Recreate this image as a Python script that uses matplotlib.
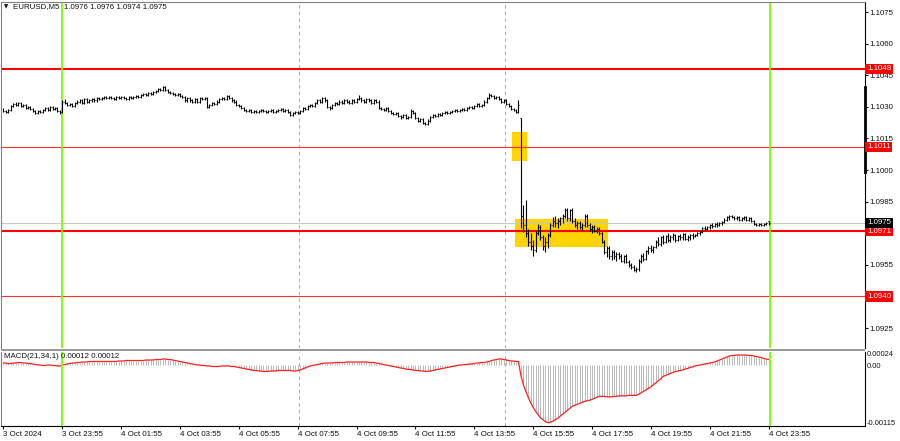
import matplotlib
matplotlib.use("Agg")
import numpy as np
import matplotlib.pyplot as plt
from matplotlib.collections import LineCollection
from matplotlib.patches import Rectangle

# EURUSD M5, 3 Oct 21:55 .. 4 Oct 23:55, prices in pips above BASE
BASE = 1.1000
PIP = 0.0001

open_pips = [
    28.5, 28, 27.5, 28.5, 30.5, 31.5, 31, 32, 30.5, 31,
    29.5, 30, 29, 28, 27, 28, 27.5, 28.5, 29.5, 28.5,
    30, 29, 29.5, 28, 27.5, 32.5, 32, 31, 31.5, 30.5,
    32, 32.5, 33, 32, 33.5, 32.5, 33, 33.5, 33, 34,
    33.5, 34, 34.5, 34, 34.5, 34, 33.5, 34.5, 34, 34.5,
    34, 33.5, 34.5, 34, 34.5, 35, 34.5, 35.5, 36, 35.5,
    36.5, 36, 37, 37.5, 38.5, 38, 39.5, 38, 37, 36.5,
    36, 35.5, 36, 35, 34.5, 33, 34, 33, 32.5, 33.5,
    32.5, 34, 33.5, 34, 30, 31, 32, 31.5, 32.5, 33.5,
    34, 33.5, 35, 34, 33, 32.5, 31, 30.5, 29.5, 28.5,
    28, 28.5, 27.5, 28, 27.5, 28, 28.5, 28, 27.5, 28,
    28.5, 27.5, 28, 28.5, 29, 28, 28.5, 27.5, 26, 27,
    27.5, 27, 28, 29.5, 29, 30.5, 31, 30.5, 32, 33,
    32.5, 34, 33, 30, 29.5, 31, 32, 31.5, 32.5, 32,
    33, 32.5, 32, 33, 32.5, 33.5, 34, 33, 32.5, 33.5,
    33, 32, 33, 32.5, 29.5, 29, 28.5, 29.5, 28, 27,
    26.5, 27, 25.5, 25, 26, 24.5, 25, 28, 27, 24.5,
    23.5, 24, 22.5, 22, 23.5, 25, 26, 25.5, 26.5, 26,
    27, 27.5, 27, 27.5, 28, 28.5, 28, 28.5, 29, 28.5,
    29.5, 30, 29.5, 30.5, 31.5, 30.5, 31, 32.5, 34, 35.5,
    35, 34, 34.5, 33.5, 32.5, 33, 31.5, 30.5, 29, 28.5,
    27.5, 24.5, -22, -26, -30, -34, -36, -38, -30, -27,
    -32, -36, -34, -31, -26, -24, -25, -24, -23, -22,
    -19, -23, -19, -24, -26, -25, -27, -26, -22, -26,
    -28, -27, -29, -28, -30, -34, -39, -37, -41, -39,
    -41, -40, -41, -43, -41, -43.5, -45, -46, -47.5, -47,
    -43, -41, -42, -38.5, -37, -38, -36.5, -34, -35, -32,
    -34, -31.5, -33, -32, -31, -33, -31.5, -32, -30.5, -32.5,
    -32, -31, -31.5, -31, -30, -29.5, -27.5, -28, -27, -26,
    -26.5, -25.5, -26, -25, -24.5, -23.5, -22.5, -22, -22.5, -23,
    -22.5, -23.5, -23, -22.5, -23.5, -23, -24, -25.5, -26, -25.5,
    -26, -25.5, -24,
]
high_pips = [
    29.5, 28.5, 29, 31, 32, 32.5, 32.5, 32.5, 31.5, 31.5,
    30.5, 30.5, 29.5, 28.5, 28.5, 28.5, 29, 30, 30, 30.5,
    30.5, 30, 30, 28.5, 33, 33.5, 32.5, 32, 32, 32.5,
    33, 33.5, 33.5, 34, 34, 33.5, 34, 34, 34.5, 34.5,
    34.5, 35, 35, 35, 35, 34.5, 35, 35, 35, 35,
    34.5, 35, 35, 35, 35.5, 35.5, 36, 36.5, 36.5, 37,
    37, 37.5, 38, 39, 39, 40, 40, 38.5, 37.5, 37,
    36.5, 36.5, 36.5, 35.5, 35, 34.5, 34.5, 33.5, 34, 34,
    34.5, 34.5, 34.5, 34.5, 31.5, 32.5, 32.5, 33, 34, 34.5,
    34.5, 35.5, 35.5, 34.5, 33.5, 33, 31.5, 31, 30, 29,
    29, 29, 28.5, 28.5, 28.5, 29, 29, 28.5, 28.5, 29,
    29, 28.5, 29, 29.5, 29.5, 29, 29, 28, 27.5, 28,
    28, 28.5, 30, 30, 31, 31.5, 31.5, 32.5, 33.5, 33.5,
    34.5, 34.5, 33.5, 30.5, 31.5, 32.5, 32.5, 33, 33, 33.5,
    33.5, 33, 33.5, 33.5, 34, 35.5, 34.5, 33.5, 34, 34,
    33.5, 33.5, 33.5, 33, 30, 29.5, 30, 30, 28.5, 27.5,
    27.5, 27.5, 26, 26.5, 26.5, 25.5, 29, 28.5, 27.5, 25,
    24.5, 24.5, 23, 24, 25.5, 26.5, 26.5, 27, 27, 27.5,
    28, 28, 28, 28.5, 29, 29, 29, 29.5, 29.5, 30,
    30.5, 30.5, 31, 32, 32, 31.5, 33, 34.5, 36.5, 36,
    35.5, 35, 35, 34, 33.5, 33.5, 32, 31, 29.5, 29,
    33, 24.7, -16.5, -14, -28, -30, -33, -29, -25.5, -26,
    -31, -32, -30, -25, -22.5, -22, -23, -22.5, -21, -18,
    -18, -18.5, -18, -23, -24, -24, -25, -21, -21, -25,
    -26, -26, -27, -27, -29.5, -33, -36, -36, -38, -38,
    -39, -39, -40, -40.5, -40, -42.5, -44, -45, -46, -42,
    -40, -39.5, -38, -36, -35.5, -36, -33, -32, -31.5, -31,
    -31, -30, -31, -30, -30.5, -31, -30.5, -30, -30, -31,
    -30.5, -30, -30.5, -29.5, -29, -27, -26.5, -26.5, -25.5, -25,
    -25, -24.5, -24.5, -24, -23, -22, -21.5, -21.5, -22, -22,
    -22, -22.5, -22, -22, -22.5, -22.5, -23.5, -25, -25, -25,
    -25, -24.5, -24,
]
low_pips = [
    27.5, 27, 27, 28, 30, 30.5, 30.5, 30, 30, 29,
    29, 28.5, 27.5, 26.5, 26.5, 27, 27, 28, 28, 28,
    28.5, 28.5, 27.5, 26.5, 27, 31.5, 30.5, 30.5, 30, 30,
    31.5, 32, 31.5, 31.5, 32, 32, 32.5, 32.5, 32.5, 33,
    33, 33.5, 33.5, 33.5, 33.5, 33, 33, 33.5, 33.5, 33.5,
    33, 33, 33.5, 33.5, 34, 34, 34, 35, 35, 35,
    35.5, 35.5, 36.5, 37, 37.5, 37.5, 37.5, 36.5, 36, 35.5,
    35, 35, 34.5, 34, 32.5, 32.5, 32.5, 32, 32, 32,
    32, 33, 33, 29.5, 29.5, 30.5, 31, 31, 32, 33,
    33, 33, 33.5, 32.5, 32, 30.5, 30, 29, 28, 27.5,
    27.5, 27, 27, 27, 27, 27.5, 27.5, 27, 27, 27.5,
    27, 27, 27.5, 28, 27.5, 27.5, 27, 25.5, 25.5, 26.5,
    26.5, 26.5, 27.5, 28.5, 28.5, 30, 30, 30, 31.5, 32,
    32, 32.5, 29.5, 28.5, 29, 30.5, 31, 31, 31.5, 31.5,
    32, 31.5, 31.5, 32, 32, 33, 32.5, 32, 32, 32.5,
    31.5, 31.5, 32, 29, 28.5, 28, 28, 27.5, 26.5, 26,
    26, 25, 24, 24.5, 24, 24, 24.5, 26.5, 24, 23,
    23, 22, 21.5, 21.5, 23, 24.5, 25, 25, 25.5, 25.5,
    26.5, 26.5, 26.5, 27, 27.5, 27.5, 27.5, 28, 28, 28,
    29, 29, 29, 30, 30, 30, 30.5, 32, 33.5, 34.5,
    33.5, 33.5, 33, 32, 32, 31, 30, 28.5, 28, 27,
    27, -27.5, -29.5, -32, -36, -38, -41, -39, -31, -33,
    -38, -39, -37, -32, -27, -27, -27.5, -26, -25, -23,
    -24, -24, -25, -27, -28, -28, -28.5, -27, -27, -29,
    -30, -29.5, -30, -31, -34.5, -40, -41.5, -42, -42.5, -42,
    -43, -42, -43.5, -44, -44, -46, -47, -48, -48.5, -48,
    -44, -43, -42.5, -40, -39, -39.5, -37, -36, -36, -35,
    -34.5, -34, -34, -33, -34, -33.5, -33, -33, -33, -33.5,
    -33, -32.5, -32, -31.5, -31, -30, -29, -28.5, -28, -27.5,
    -27, -27, -26.5, -26, -25, -24, -23.5, -23, -23.5, -23.5,
    -24, -24, -23.5, -24, -24, -24.5, -26, -26.5, -26.5, -26.5,
    -26.5, -26, -26,
]
close_pips = [
    28, 27.5, 28.5, 30.5, 31.5, 31, 32, 30.5, 31, 29.5,
    30, 29, 28, 27, 28, 27.5, 28.5, 29.5, 28.5, 30,
    29, 29.5, 28, 27.5, 32.5, 32, 31, 31.5, 30.5, 32,
    32.5, 33, 32, 33.5, 32.5, 33, 33.5, 33, 34, 33.5,
    34, 34.5, 34, 34.5, 34, 33.5, 34.5, 34, 34.5, 34,
    33.5, 34.5, 34, 34.5, 35, 34.5, 35.5, 36, 35.5, 36.5,
    36, 37, 37.5, 38.5, 38, 39.5, 38, 37, 36.5, 36,
    35.5, 36, 35, 34.5, 33, 34, 33, 32.5, 33.5, 32.5,
    34, 33.5, 34, 30, 31, 32, 31.5, 32.5, 33.5, 34,
    33.5, 35, 34, 33, 32.5, 31, 30.5, 29.5, 28.5, 28,
    28.5, 27.5, 28, 27.5, 28, 28.5, 28, 27.5, 28, 28.5,
    27.5, 28, 28.5, 29, 28, 28.5, 27.5, 26, 27, 27.5,
    27, 28, 29.5, 29, 30.5, 31, 30.5, 32, 33, 32.5,
    34, 33, 30, 29.5, 31, 32, 31.5, 32.5, 32, 33,
    32.5, 32, 33, 32.5, 33.5, 34, 33, 32.5, 33.5, 33,
    32, 33, 32.5, 29.5, 29, 28.5, 29.5, 28, 27, 26.5,
    27, 25.5, 25, 26, 24.5, 25, 28, 27, 24.5, 23.5,
    24, 22.5, 22, 23.5, 25, 26, 25.5, 26.5, 26, 27,
    27.5, 27, 27.5, 28, 28.5, 28, 28.5, 29, 28.5, 29.5,
    30, 29.5, 30.5, 31.5, 30.5, 31, 32.5, 34, 35.5, 35,
    34, 34.5, 33.5, 32.5, 33, 31.5, 30.5, 29, 28.5, 27.5,
    31, -22, -26, -30, -34, -36, -38, -30, -27, -32,
    -36, -34, -31, -26, -24, -25, -24, -23, -22, -19,
    -23, -19, -24, -26, -25, -27, -26, -22, -26, -28,
    -27, -29, -28, -30, -34, -39, -37, -41, -39, -41,
    -40, -41, -43, -41, -43.5, -45, -46, -47.5, -47, -43,
    -41, -42, -38.5, -37, -38, -36.5, -34, -35, -32, -34,
    -31.5, -33, -32, -31, -33, -31.5, -32, -30.5, -32.5, -32,
    -31, -31.5, -31, -30, -29.5, -27.5, -28, -27, -26, -26.5,
    -25.5, -26, -25, -24.5, -23.5, -22.5, -22, -22.5, -23, -22.5,
    -23.5, -23, -22.5, -23.5, -23, -24, -25.5, -26, -25.5, -26,
    -25.5, -25, -25,
]

# MACD(21,34,1) main line, in units of 0.00001
macd_e5 = [
    5, 5, 4, 4, 5, 5, 6, 6, 5, 5, 4, 4, 3,
    2, 1, 1, 0, 0, 1, 1, 0, 0, -1, -1,
    1, 2, 3, 4, 5, 5, 6, 6, 7, 7, 7, 8, 8, 8, 8, 8, 8, 8, 8, 8, 8, 8, 8,
    9, 9, 9, 10, 10, 10, 10, 10, 10, 10, 10, 11, 11, 11, 11,
    12, 12, 12, 13, 13, 12, 12,
    11, 10, 9, 8, 7, 6, 5, 4, 3, 2, 1, 1, 0, 0, -1, -1, -2,
    -2, -2, -2, -1, -1, -1, -1, -2, -2, -3, -4,
    -5, -6, -7, -8, -9, -10, -10, -11, -11, -12, -12,
    -12, -11, -11, -11, -10, -10, -10, -10, -10, -10, -11, -11, -10, -9,
    -7, -5, -3, -1, 0, 1, 2, 3,
    4, 5, 5, 5, 5, 6, 6, 6, 6, 6, 7, 7, 7, 7, 7, 7, 7, 7, 7, 6, 6, 6, 5,
    4, 3, 2, 1, 0, -1, -2, -3, -4, -5, -6, -7, -8,
    -8, -9, -10, -10, -11, -11, -12, -12, -11,
    -10, -9, -8, -7, -6, -5, -4, -3,
    -2, -1, 0, 1, 1, 2, 2, 3, 3, 4, 5,
    5, 6, 6, 7, 8, 10, 11,
    12, 13, 13, 12,
    11, 10, 9, 9, 8, 8,
    -20, -38, -52, -64, -75, -84, -92, -99, -105, -109, -113, -115,
    -114, -112, -109, -106, -102, -98, -94, -90, -86, -82,
    -80, -78, -76, -74, -72, -71, -70, -68, -66, -64, -62, -62, -62, -63, -63,
    -63, -62, -62, -61, -61, -61, -61, -60, -60, -60, -60,
    -58, -55, -52, -49, -46, -43, -39, -35, -31, -27, -22,
    -20, -18, -16, -14, -12, -11, -10, -9, -7, -6, -4, -3, -1, 0,
    1, 2, 3, 4, 5, 6, 7, 9, 11, 13, 15, 17, 19,
    20, 20, 21, 21, 21, 21, 21, 20, 20, 19, 18, 17, 16, 14, 13, 12,
]

time_labels = ["3 Oct 2024", "3 Oct 23:55", "4 Oct 01:55", "4 Oct 03:55",
               "4 Oct 05:55", "4 Oct 07:55", "4 Oct 09:55", "4 Oct 11:55",
               "4 Oct 13:55", "4 Oct 15:55", "4 Oct 17:55", "4 Oct 19:55",
               "4 Oct 21:55", "4 Oct 23:55"]
time_label_bars = [0, 24, 48, 72, 96, 120, 144, 168, 192, 216, 240, 264, 288, 312]

price_ticks = [1.1075, 1.1060, 1.1045, 1.1030, 1.1015, 1.1000, 1.0985, 1.0955, 1.0925]
strong_levels = [1.1048, 1.0971]
weak_levels = [1.1011, 1.0940]
bid_price = 1.0975
green_lines = [24.0, 312.7]
separator_lines = [120.6, 204.7]
# yellow zones: (first bar, last bar, low, high)
zones = [(207.4, 213.5, 1.10043, 1.10180), (208.6, 246.5, 1.09635, 1.09768)]
scale_marker = (1.10394, 1.09991)
macd_ticks = [0.00024, 0.0, -0.00115]
macd_tick_labels = ["0.00024", "0.00", "-0.00115"]

o = BASE + np.array(open_pips) * PIP
h = BASE + np.array(high_pips) * PIP
l = BASE + np.array(low_pips) * PIP
c = BASE + np.array(close_pips) * PIP
macd = np.array(macd_e5) * 1e-5
x = np.arange(len(c))

W, H = 900, 441
FS = 5.7
TXT = "#111111"
plt.rcParams['font.family'] = ['Liberation Sans', 'DejaVu Sans']


def rect(x0, y0, x1, y1):
    return [x0 / W, 1 - y1 / H, (x1 - x0) / W, (y1 - y0) / H]


fig = plt.figure(figsize=(9, 4.41), dpi=100)
ax = fig.add_axes(rect(1, 2, 865, 348))
axm = fig.add_axes(rect(1, 352, 865, 426), sharex=ax)

BAR_PX, X0_PX = 2.452, 3.5
ax.set_xlim((1 - X0_PX) / BAR_PX, (865 - X0_PX) / BAR_PX)
ax.set_ylim(1.091553, 1.107975)
axm.set_ylim(-0.001216, 0.000271)

# zones
for x0, x1, lo, hi in zones:
    ax.add_patch(Rectangle((x0, lo), x1 - x0, hi - lo, facecolor="#ffd400",
                           edgecolor="none", zorder=1))

ax.axhline(bid_price, color="#c8c8c8", lw=0.8, zorder=1.5)
for lv in strong_levels:
    ax.axhline(lv, color="#ff0000", lw=1.5, zorder=2)
for lv in weak_levels:
    ax.axhline(lv, color="#ff3030", lw=0.8, zorder=2)

for a in (ax, axm):
    for gx in green_lines:
        a.axvline(gx, color="#7cfc00", lw=1.3, zorder=2.5)
    for sx in separator_lines:
        a.axvline(sx, color="#8fd14f", lw=0.8, dashes=(3, 3), zorder=0.5)

# OHLC bars
segs = []
for i in range(len(c)):
    segs.append([(x[i], l[i]), (x[i], h[i])])
    segs.append([(x[i] - 0.4, o[i]), (x[i], o[i])])
    segs.append([(x[i], c[i]), (x[i] + 0.4, c[i])])
ax.add_collection(LineCollection(segs, colors="black", linewidths=0.8, zorder=3))

xr = ax.get_xlim()[1]
ax.plot([xr, xr], scale_marker, color="black", lw=2, clip_on=False, zorder=5)

# MACD panel
axm.vlines(x, 0, macd, color="#b8b8b8", lw=0.7, zorder=1)
axm.plot(x, macd, color="#ff2020", lw=0.9, zorder=2)

# axes styling
ax.yaxis.tick_right()
ax.set_yticks(price_ticks)
ax.set_yticklabels([f"{t:.4f}" for t in price_ticks])
ax.tick_params(axis="y", labelsize=FS, length=2, pad=1.5, colors=TXT)
ax.tick_params(axis="x", bottom=False, labelbottom=False)
for s in ("left", "top"):
    ax.spines[s].set_color("#808080")
ax.spines["right"].set_color("black")
ax.spines["bottom"].set_visible(False)

axm.yaxis.tick_right()
axm.set_yticks(macd_ticks)
axm.set_yticklabels(macd_tick_labels)
axm.tick_params(axis="y", labelsize=5.4, length=0, pad=1.5, colors=TXT)
axm.set_xticks(time_label_bars)
axm.set_xticklabels(time_labels)
axm.tick_params(axis="x", labelsize=FS, length=2, pad=1.5, colors=TXT)
for lbl in axm.get_xticklabels():
    lbl.set_horizontalalignment("left")
axm.spines["top"].set_visible(False)
axm.spines["left"].set_color("#808080")

# panel separator
fig.patches.append(Rectangle((1 / W, 1 - 351 / H), 864 / W, 2.5 / H,
                             transform=fig.transFigure, facecolor="#9a9a9a",
                             edgecolor="none"))

# price labels on the scale
def price_label(p, bg):
    y = ax.transData.transform((0, p))[1]
    yf = fig.transFigure.inverted().transform((0, y))[1]
    fig.text(867 / W, yf, f"{p:.4f}", fontsize=FS, color="white", va="center",
             ha="left", bbox=dict(boxstyle="square,pad=0.2", fc=bg, ec="none"))

for lv in strong_levels + weak_levels:
    price_label(lv, "#ff0000")
price_label(bid_price, "black")

fig.text(4 / W, 1 - 6.5 / H, "\u25bc", fontsize=4, va="center", color=TXT,
         family="DejaVu Sans")
fig.text(13 / W, 1 - 7 / H, "EURUSD,M5  1.0976 1.0976 1.0974 1.0975",
         fontsize=FS, va="center", color=TXT)
fig.text(4 / W, 1 - 357 / H, "MACD(21,34,1) 0.00012 0.00012",
         fontsize=FS, va="center", color=TXT)

fig.savefig("out.png", dpi=100)
